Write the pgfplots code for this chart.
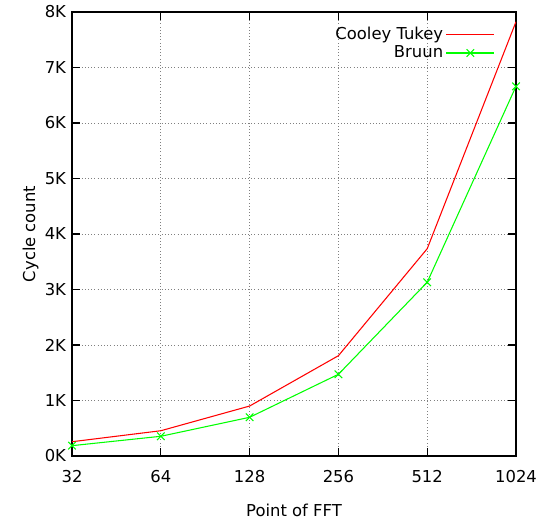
\documentclass[border=0pt]{standalone}
\usepackage{pgfplots}
\pgfplotsset{compat=1.18}
\usepackage{fontspec}
\setmainfont{DejaVu Sans}
\begin{document}
\begin{tikzpicture}[x=0.75pt,y=0.75pt]
\begin{axis}[
  at={(72*0.75pt,67*0.75pt)}, anchor=south west,
  scale only axis, width=333pt, height=333pt,
  xmode=log, log basis x=2,
  xmin=32, xmax=1024, ymin=0, ymax=8000,
  xtick={32,64,128,256,512,1024},
  xticklabels={32,64,128,256,512,1024},
  ytick={0,1000,2000,3000,4000,5000,6000,7000,8000},
  yticklabels={0K,1K,2K,3K,4K,5K,6K,7K,8K},
  /pgf/number format/assume math mode=true,
  tick label style={font=\fontsize{12.3}{14}\selectfont},
  xticklabel style={yshift=-7.5pt},
  yticklabel style={xshift=-1pt},
  label style={font=\fontsize{12.3}{14}\selectfont},
  xlabel={Point of FFT}, ylabel={Cycle count},
  xlabel style={at={(axis description cs:0.5,0)}, anchor=center, yshift=-40.5pt},
  ylabel style={at={(axis description cs:0,0.5)}, anchor=center, yshift=31pt},
  grid=major, major grid style={dotted, gray, line width=0.7pt},
  tick align=inside, major tick length=6pt, minor tick length=0pt,
  axis line style={black, line width=0.8pt},
  every tick/.style={black, line width=0.8pt},
  legend style={at={(0.962,0.98)}, anchor=north east, draw=none, fill=none,
    font=\fontsize{12.3}{14}\selectfont, row sep=-0.5pt, yshift=14.5pt},
  legend cell align=right, legend plot pos=right,
  legend image code/.code={
    \draw[mark repeat=2,mark phase=2,#1] plot coordinates {(0pt,0pt) (18pt,0pt) (36pt,0pt)};},
]
\addlegendimage{empty legend}
\addlegendentry{\strut}
\addlegendimage{red, line width=0.8pt}
\addlegendentry{Cooley Tukey}
\addlegendimage{green, line width=0.8pt, mark=x, mark size=4pt, mark options={line width=0.8pt}}
\addlegendentry{Bruun}
\addplot[forget plot, red, line width=0.8pt] coordinates {
  (32,257) (64,455) (128,900) (256,1807) (512,3735) (1024,7825)};
\addplot[forget plot, green, line width=0.8pt, mark=x, mark size=4pt, mark options={line width=0.8pt}] coordinates {
  (32,186) (64,355) (128,697) (256,1472) (512,3130) (1024,6661)};
\end{axis}
\path[use as bounding box] (0,0) rectangle (543*0.75pt,523*0.75pt);
\end{tikzpicture}
\end{document}
